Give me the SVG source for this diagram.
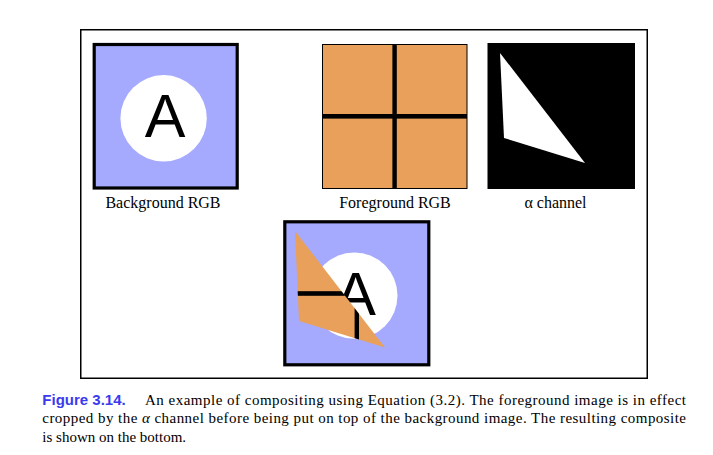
<svg xmlns="http://www.w3.org/2000/svg" width="713" height="455" viewBox="0 0 713 455">
<style>
.lbl{font-family:"Liberation Serif",serif;font-size:16px;fill:#000;text-anchor:middle}
.cap{font-family:"Liberation Serif",serif;font-size:15px;fill:#000}
.fig{font-family:"Liberation Sans",Arial,sans-serif;font-weight:bold;font-size:15px;fill:#3a3aee}
.bigA{font-family:"Liberation Sans",Arial,sans-serif;font-size:61px;fill:#000;text-anchor:middle}
.lilac{fill:#a5aaff}
.orange{fill:#e8a05a}
</style>
<defs>
<clipPath id="tri"><polygon points="295,231 299,321 385,347.5"/></clipPath>
</defs>
<rect x="0" y="0" width="713" height="455" fill="#fff"/>
<rect x="80.75" y="29.75" width="566.5" height="348.5" fill="none" stroke="#000" stroke-width="1.5"/>

<g id="background">
<rect x="94.2" y="44.5" width="143" height="143.5" class="lilac" stroke="#000" stroke-width="3.2"/>
<circle cx="163.6" cy="118.3" r="43.2" fill="#fff"/>
<text x="165" y="137.3" class="bigA">A</text>
</g>

<g id="foreground">
<rect x="322.5" y="44.5" width="144.5" height="144" class="orange" stroke="#000" stroke-width="1"/>
<rect x="392.4" y="44.5" width="4.4" height="144" fill="#000"/>
<rect x="322.5" y="114" width="144.5" height="4.6" fill="#000"/>
</g>

<g id="alpha">
<rect x="487.5" y="43" width="147.5" height="146" fill="#000"/>
<polygon points="500,53 504,138 585,163" fill="#fff"/>
</g>

<g id="composite">
<rect x="284.8" y="221.8" width="144" height="143" class="lilac" stroke="#000" stroke-width="3.2"/>
<circle cx="354.3" cy="295.6" r="43.2" fill="#fff"/>
<text x="355.5" y="314.6" class="bigA">A</text>
<g clip-path="url(#tri)">
<rect x="284" y="221" width="146" height="146" class="orange"/>
<rect x="354.6" y="221" width="4.4" height="146" fill="#000"/>
<rect x="284" y="291.2" width="146" height="4.6" fill="#000"/>
</g>
</g>

<g id="labels">
<text x="163" y="208.3" class="lbl">Background RGB</text>
<text x="395" y="208.3" class="lbl">Foreground RGB</text>
<text x="555.5" y="208.3" class="lbl">α channel</text>
</g>

<g id="caption">
<text x="42.3" y="404.5" class="fig">Figure 3.14.</text>
<text x="145" y="404.5" class="cap" textLength="541" lengthAdjust="spacing">An example of compositing using Equation (3.2). The foreground image is in effect</text>
<text x="42.3" y="423" class="cap" textLength="643.7" lengthAdjust="spacing">cropped by the <tspan font-style="italic">α</tspan> channel before being put on top of the background image. The resulting composite</text>
<text x="42.3" y="441.5" class="cap">is shown on the bottom.</text>
</g>
</svg>
